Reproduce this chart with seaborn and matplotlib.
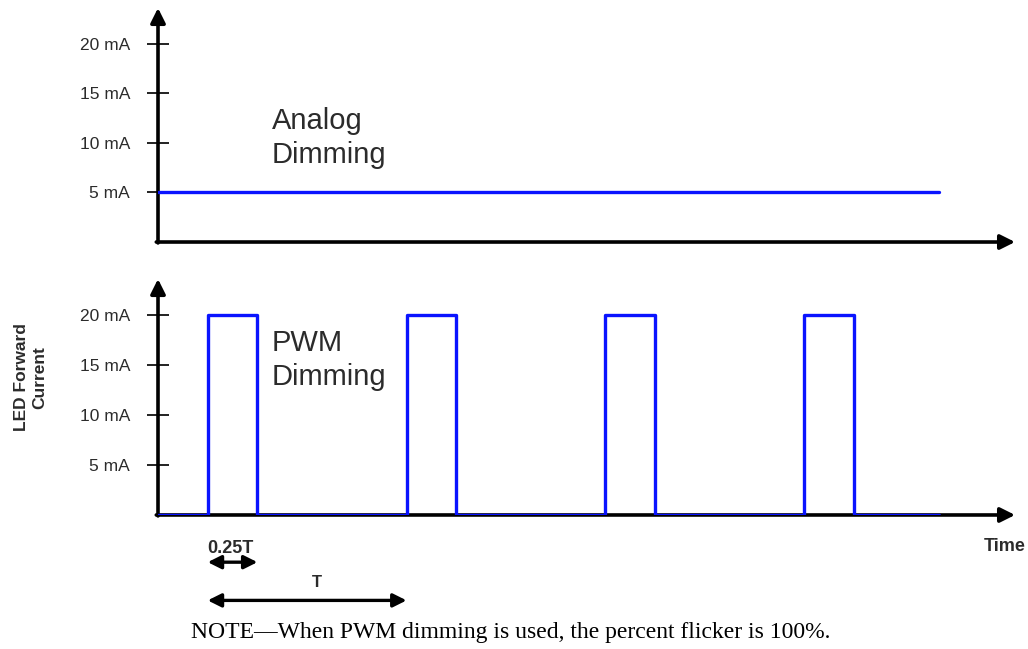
import matplotlib
matplotlib.use("Agg")
from matplotlib import pyplot as plt
import seaborn as sns

# current levels (mA) and time in units of the PWM period T
tick_values = [5, 10, 15, 20]
tick_labels = ["5 mA", "10 mA", "15 mA", "20 mA"]

analog_time = [0, 3.93]
analog_current = [5, 5]

pwm_time = [0, 0.25, 0.5, 1.25, 1.5, 2.25, 2.5, 3.25, 3.5, 3.93]
pwm_current = [0, 20, 0, 20, 0, 20, 0, 20, 0, 0]

duty_span = [0.25, 0.5]
period_span = [0.25, 1.25]

sns.set_style("white")
plt.rcParams['font.family'] = ['Liberation Sans', 'DejaVu Sans']

fig = plt.figure(figsize=(10.28, 6.49), dpi=100)
ax_top = fig.add_axes([0.1537, 0.6271, 0.8337, 0.3606])
ax_bot = fig.add_axes([0.1537, 0.2065, 0.8337, 0.3636])

blue = "#0a14ff"
txt = "#2b2b2b"

sns.lineplot(x=analog_time, y=analog_current, ax=ax_top, color=blue,
             linewidth=2.4, estimator=None, sort=False, zorder=5)
sns.lineplot(x=pwm_time, y=pwm_current, ax=ax_bot, color=blue,
             linewidth=2.4, estimator=None, sort=False,
             drawstyle="steps-post", zorder=5)

for ax in (ax_top, ax_bot):
    ax.set_xlim(0, 4.31)
    ax.set_ylim(0, 23.6)
    for s in ax.spines.values():
        s.set_visible(False)
    ax.set_xticks([])
    ax.set_yticks(tick_values)
    ax.set_yticklabels(tick_labels)
    ax.tick_params(axis="y", direction="inout", length=16, width=1.4,
                   color="#222222", labelsize=12.5, labelcolor=txt, pad=12,
                   left=True)
    ax.set_xlabel("")
    ax.set_ylabel("")
    arrow = dict(arrowstyle="-|>", color="black", lw=2.6,
                 mutation_scale=22, shrinkA=0, shrinkB=0)
    ax.annotate("", xy=(1.0, 0), xytext=(-0.002, 0), xycoords="axes fraction",
                arrowprops=arrow, zorder=3, annotation_clip=False)
    ax.annotate("", xy=(0, 1.0), xytext=(0, -0.004), xycoords="axes fraction",
                arrowprops=arrow, zorder=3, annotation_clip=False)

ax_top.text(0.133, 0.444, "Analog\nDimming", transform=ax_top.transAxes,
            fontsize=21, color=txt, va="center", ha="left", linespacing=1.25)
ax_bot.text(0.133, 0.657, "PWM\nDimming", transform=ax_bot.transAxes,
            fontsize=21, color=txt, va="center", ha="left", linespacing=1.25)

fig.text(0.0295, 0.419, "LED Forward\nCurrent", rotation=90, fontsize=12.5,
         color=txt, ha="center", va="center", fontweight="bold",
         linespacing=1.3)

# time axis annotations below the PWM panel
ax_bot.text(1.012, -0.135, "Time", transform=ax_bot.transAxes, fontsize=13,
            color=txt, ha="right", va="center", fontweight="bold")
dbl = dict(arrowstyle="<|-|>", color="black", lw=2.4, mutation_scale=20,
           shrinkA=0, shrinkB=0)
ax_bot.annotate("", xy=(duty_span[1], -0.2), xytext=(duty_span[0], -0.2),
                xycoords=("data", "axes fraction"), arrowprops=dbl,
                annotation_clip=False)
ax_bot.annotate("", xy=(period_span[1], -0.362), xytext=(period_span[0], -0.362),
                xycoords=("data", "axes fraction"), arrowprops=dbl,
                annotation_clip=False)
ax_bot.annotate("0.25T", xy=(duty_span[0], -0.14),
                xycoords=("data", "axes fraction"), fontsize=13, color=txt,
                ha="left", va="center", fontweight="bold", annotation_clip=False)
ax_bot.annotate("T", xy=(0.8, -0.285),
                xycoords=("data", "axes fraction"), fontsize=12, color=txt,
                ha="center", va="center", fontweight="bold", annotation_clip=False)

fig.text(0.497, 0.025, "NOTE\u2014When PWM dimming is used, the percent flicker is 100%.",
         fontsize=17, family=["Liberation Serif", "DejaVu Serif"],
         color="black", ha="center", va="center")

fig.savefig("out.png", dpi=100)
